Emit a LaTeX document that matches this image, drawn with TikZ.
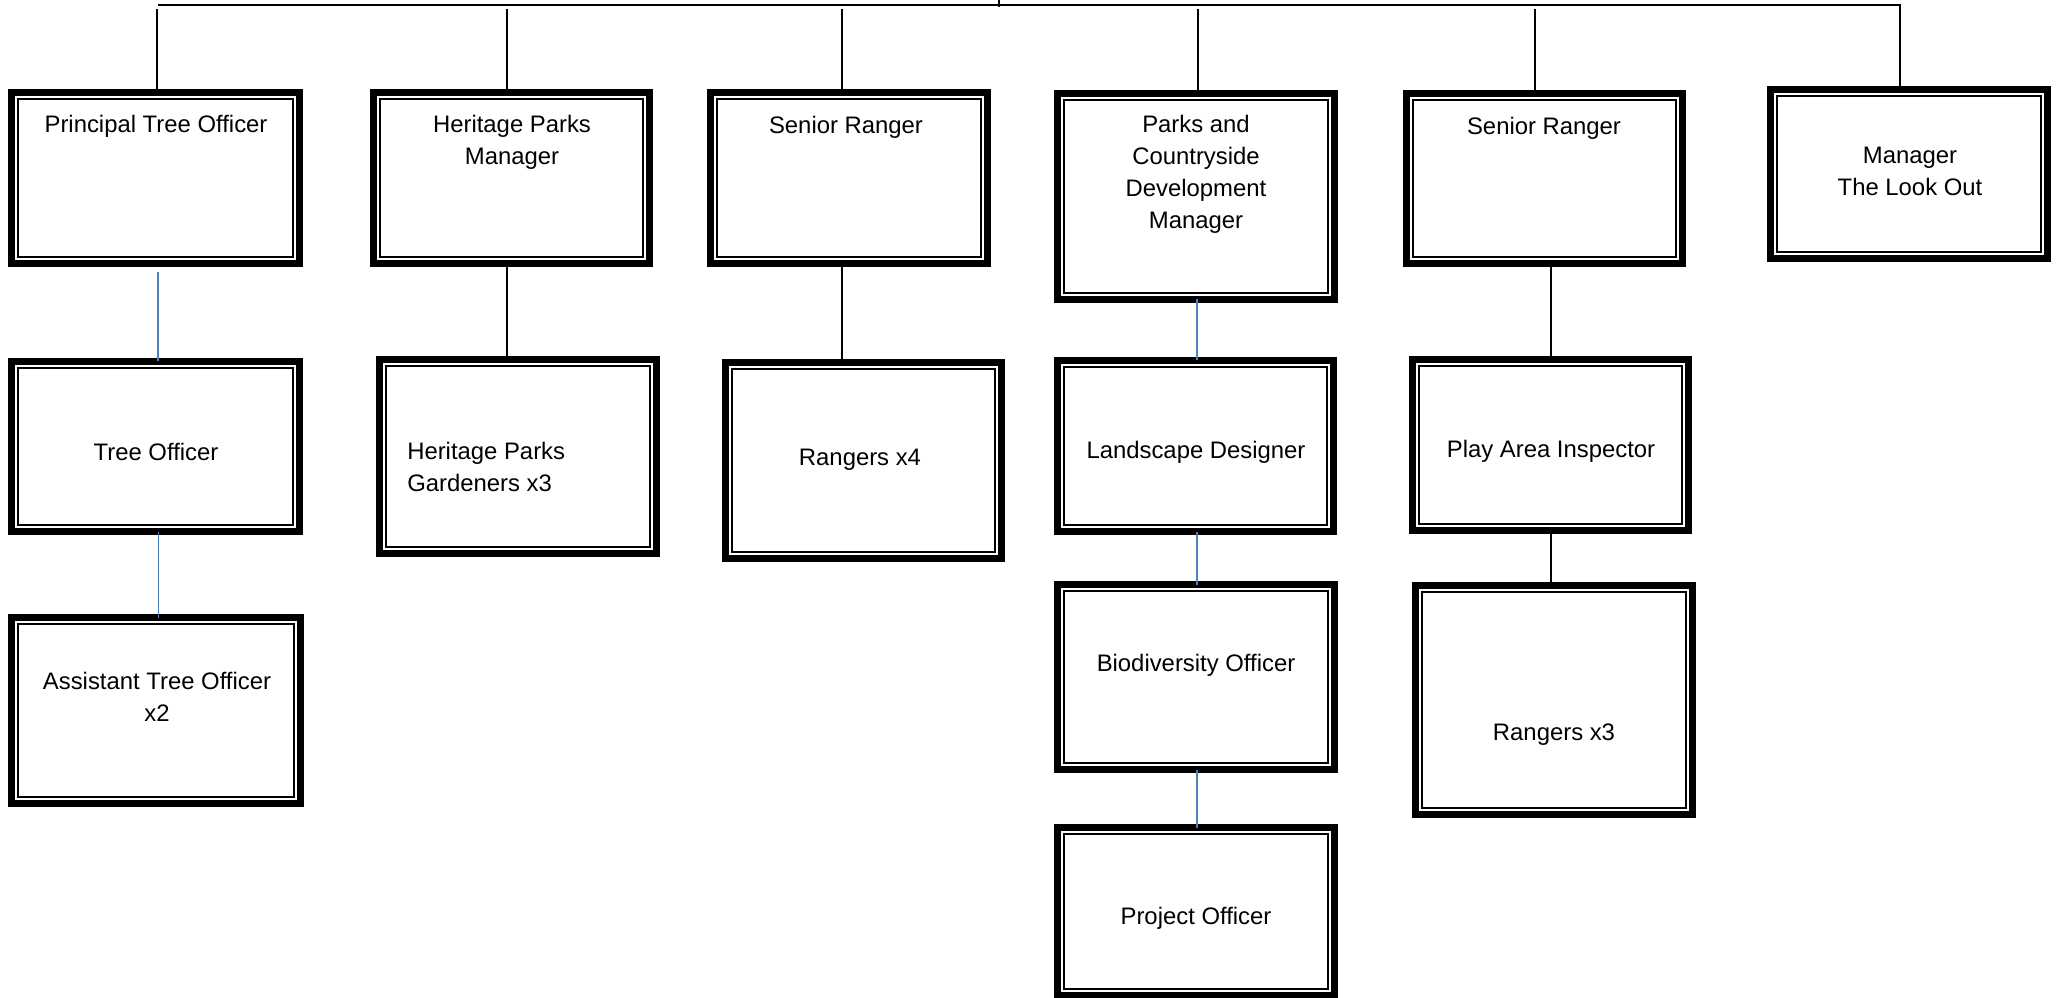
\documentclass[tikz,border=0pt]{standalone}
\usepackage{fontspec}
\setmainfont{Liberation Sans}
\usetikzlibrary{calc}
\definecolor{linkblue}{RGB}{79,129,189}
\tikzset{
  box/.style 2 args={rectangle, draw=black, fill=white, line width=5.25pt,
    inner sep=0pt, outer sep=0pt,
    minimum width=#1*0.75pt-5.25pt, minimum height=#2*0.75pt-5.25pt,
    path picture={\draw[line width=1.5pt,black]
      ([shift={(5.2pt,-5.2pt)}]path picture bounding box.north west) rectangle
      ([shift={(-5.2pt,5.2pt)}]path picture bounding box.south east);}},
  txt/.style={font=\fontsize{17.9pt}{24pt}\selectfont, align=center, inner sep=0pt},
  conn/.style={draw=black, line width=1.1pt},
  bconn/.style={draw=linkblue, line width=1.2pt}
}
\begin{document}
\begin{tikzpicture}[x=0.75pt,y=-0.75pt]
\useasboundingbox (0,0) rectangle (2060,998);
% boxes
\node[box={295}{178}] (PTO)  at (155.5,178)   {};
\node[box={283}{178}] (HPM)  at (511.5,178)   {};
\node[box={284}{178}] (SR1)  at (849,178)     {};
\node[box={284}{213}] (PCDM) at (1196,196.5)  {};
\node[box={283}{177}] (SR2)  at (1544.5,178.5){};
\node[box={284}{176}] (MLO)  at (1909,174)    {};
\node[box={295}{177}] (TO)   at (155.5,446.5) {};
\node[box={284}{201}] (HPG)  at (518,456.5)   {};
\node[box={283}{203}] (R4)   at (863.5,460.5) {};
\node[box={283}{178}] (LD)   at (1195.5,446)  {};
\node[box={283}{178}] (PAI)  at (1550.5,445)  {};
\node[box={296}{193}] (ATO)  at (156,710.5)   {};
\node[box={284}{192}] (BO)   at (1196,677)    {};
\node[box={284}{236}] (R3)   at (1554,700)    {};
\node[box={284}{175}] (PO)   at (1196,911.5)  {};
% texts
\node[txt] (tPTO)  at (156,126)   {Principal Tree Officer};
\node[txt] (tHPM)  at (512,142)   {Heritage Parks\\Manager};
\node[txt] (tSR1)  at (846,127)   {Senior Ranger};
\node[txt] (tPCDM) at (1196,174)  {Parks and\\Countryside\\Development\\Manager};
\node[txt] (tSR2)  at (1544,128)  {Senior Ranger};
\node[txt] (tMLO)  at (1910,171)  {Manager\\The Look Out};
\node[txt] (tTO)   at (156,452)   {Tree Officer};
\node[txt, anchor=west, align=left] (tHPG) at (407,467) {Heritage Parks\\Gardeners x3};
\node[txt] (tR4)   at (860,460)   {Rangers x4};
\node[txt] (tLD)   at (1196,452)  {Landscape Designer};
\node[txt] (tPAI)  at (1551,451)  {Play Area Inspector};
\node[txt] (tATO)  at (157,697)   {Assistant Tree Officer\\x2};
\node[txt] (tBO)   at (1196,665)  {Biodiversity Officer};
\node[txt] (tR3)   at (1554,735)  {Rangers x3};
\node[txt] (tPO)   at (1196,918)  {Project Officer};
% top line
\coordinate (L) at (158,5);
\coordinate (R) at (1900,5);
\coordinate (tk) at (999,0);
\draw[conn] (L) -- (R) -- (MLO.north -| R);
\draw[conn] (tk) -- ++(0,7);
\coordinate (d1) at (157,9);
\coordinate (d2) at (507,9);
\coordinate (d3) at (842,9);
\coordinate (d4) at (1198,9);
\coordinate (d5) at (1535,9);
\draw[conn] (d1) -- (d1 |- PTO.north);
\draw[conn] (d2) -- (d2 |- HPM.north);
\draw[conn] (d3) -- (d3 |- SR1.north);
\draw[conn] (d4) -- (d4 |- PCDM.north);
\draw[conn] (d5) -- (d5 |- SR2.north);
% second-level links
\coordinate (a1) at ($(PTO.south)+(2.5,8.5)$);
\draw[bconn] (a1) -- (a1 |- TO.north);
\coordinate (a2) at ($(TO.south)+(3,0)$);
\draw[bconn] (a2) -- (a2 |- ATO.north);
\coordinate (a3) at ($(HPM.south)+(-4.5,0)$);
\draw[conn] (a3) -- (a3 |- HPG.north);
\coordinate (a4) at ($(SR1.south)+(-7,0)$);
\draw[conn] (a4) -- (a4 |- R4.north);
\coordinate (a5) at ($(PCDM.south)+(1,0)$);
\draw[bconn] (a5) -- (a5 |- LD.north);
\coordinate (a6) at ($(LD.south)+(1.5,0)$);
\draw[bconn] (a6) -- (a6 |- BO.north);
\coordinate (a7) at ($(BO.south)+(1,0)$);
\draw[bconn] (a7) -- (a7 |- PO.north);
\coordinate (a8) at ($(SR2.south)+(6.5,0)$);
\draw[conn] (a8) -- (a8 |- PAI.north);
\coordinate (a9) at ($(PAI.south)+(0.5,0)$);
\draw[conn] (a9) -- (a9 |- R3.north);
\end{tikzpicture}
\end{document}
